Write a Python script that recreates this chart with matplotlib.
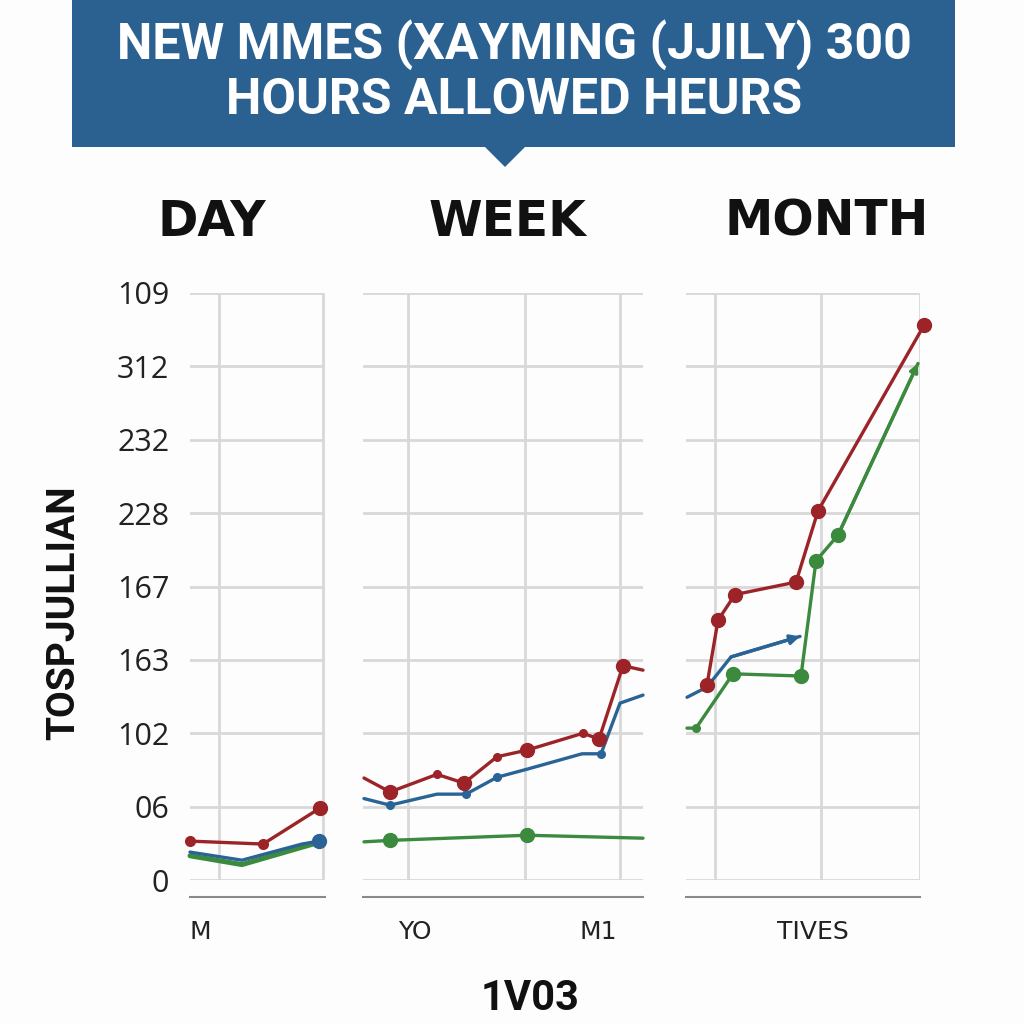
import matplotlib
matplotlib.use("Agg")
import matplotlib.pyplot as plt
from matplotlib.patches import Rectangle, Polygon

# ---------------- data ----------------
title_lines = ["NEW MMES (XAYMING (JJILY) 300", "HOURS ALLOWED HEURS"]
panel_titles = ["DAY", "WEEK", "MONTH"]
ytick_labels = ["0", "06", "102", "163", "167", "228", "232", "312", "109"]
ylabel = "TOSPJULLIAN"
xlabel = "1V03"

# DAY panel
day_red_x = [0.0, 7.3, 13.0]
day_red_y = [0.53, 0.49, 0.98]
day_blue_x = [0.0, 5.2, 11.2, 12.9]
day_blue_y = [0.38, 0.27, 0.49, 0.53]
day_green_x = [0.0, 5.2, 12.3]
day_green_y = [0.33, 0.21, 0.49]
day_ticks = [1.0]
day_ticklabels = ["M"]
day_grid = [2.9, 13.3]

# WEEK panel
week_red_x = [0.1, 2.7, 7.4, 10.1, 13.4, 16.4, 22.0, 23.6, 26.0, 28.0]
week_red_y = [1.39, 1.20, 1.44, 1.32, 1.68, 1.77, 2.00, 1.92, 2.92, 2.86]
week_blue_x = [0.1, 2.7, 7.4, 10.3, 13.4, 16.4, 21.9, 23.8, 25.7, 28.0]
week_blue_y = [1.11, 1.02, 1.17, 1.17, 1.40, 1.51, 1.72, 1.72, 2.41, 2.52]
week_green_x = [0.1, 2.7, 16.4, 28.0]
week_green_y = [0.52, 0.54, 0.61, 0.57]
week_ticks = [5.2, 23.5]
week_ticklabels = ["YO", "M1"]
week_grid = [4.5, 16.2, 25.7]

# MONTH panel
month_red_x = [2.1, 3.2, 4.9, 11.0, 13.2, 23.8]
month_red_y = [2.66, 3.54, 3.89, 4.06, 5.03, 7.56]
month_blue_x = [0.1, 2.1, 4.5, 11.4]
month_blue_y = [2.49, 2.63, 3.04, 3.32]
month_green_x = [0.1, 1.0, 4.7, 11.5, 13.0, 15.2, 23.2]
month_green_y = [2.07, 2.07, 2.81, 2.78, 4.35, 4.70, 7.04]
month_ticks = [12.7]
month_ticklabels = ["TIVES"]
month_grid = [2.9, 13.5, 23.4]

# ---------------- style ----------------
RED = "#9c2428"
BLUE = "#2a6496"
GREEN = "#3b8a3e"
BANNER = "#2b6191"
GRID = "#d8d8d8"
LW = 2.4

fig = plt.figure(figsize=(10.24, 10.24), dpi=100)
fig.patch.set_facecolor("#fdfdfd")

def px(x0, y0, x1, y1):
    return [x0 / 1024, 1 - y1 / 1024, (x1 - x0) / 1024, (y1 - y0) / 1024]

# banner
fig.add_artist(Rectangle((72 / 1024, 1 - 147 / 1024), 883 / 1024, 147 / 1024,
                         transform=fig.transFigure, facecolor=BANNER, edgecolor="none"))
fig.add_artist(Polygon([(484 / 1024, 1 - 146 / 1024), (526 / 1024, 1 - 146 / 1024),
                        (505 / 1024, 1 - 167 / 1024)], closed=True,
                       transform=fig.transFigure, facecolor=BANNER, edgecolor="none"))
tfam = ["Roboto", "DejaVu Sans"]
fig.text(514 / 1024, 1 - 45 / 1024, title_lines[0], color="white", fontsize=36,
         fontweight="bold", family=tfam, ha="center", va="center")
fig.text(514 / 1024, 1 - 101 / 1024, title_lines[1], color="white", fontsize=36,
         fontweight="bold", family=tfam, ha="center", va="center")

panels = [
    dict(rect=px(190, 293, 325, 880), xlim=(0, 13.5), grid=day_grid, ticks=day_ticks,
         tl=day_ticklabels,
         red=(day_red_x, day_red_y, [0, 1, 2], [2], []),
         blue=(day_blue_x, day_blue_y, [3], [3], []),
         green=(day_green_x, day_green_y, [], [], []),
         title_x=212),
    dict(rect=px(363, 293, 643, 880), xlim=(0, 28), grid=week_grid, ticks=week_ticks,
         tl=week_ticklabels,
         red=(week_red_x, week_red_y, None, [1, 3, 5, 7, 8], [2, 4, 6]),
         blue=(week_blue_x, week_blue_y, None, [], [1, 3, 4, 7]),
         green=(week_green_x, week_green_y, None, [1, 2], []),
         title_x=507),
    dict(rect=px(686, 293, 920, 880), xlim=(0, 23.4), grid=month_grid, ticks=month_ticks,
         tl=month_ticklabels,
         red=(month_red_x, month_red_y, None, [0, 1, 2, 3, 4, 5], []),
         blue=(month_blue_x, month_blue_y, None, [], []),
         green=(month_green_x, month_green_y, None, [2, 3, 4, 5], [1]),
         title_x=827),
]

axes = []
for i, p in enumerate(panels):
    ax = fig.add_axes(p["rect"])
    axes.append(ax)
    ax.set_facecolor("none")
    ax.set_xlim(*p["xlim"])
    ax.set_ylim(0, 8)
    ax.set_xticks(p["grid"])
    ax.set_xticklabels([])
    ax.set_xticks(p["ticks"], minor=True)
    ax.set_xticklabels(p["tl"], minor=True)
    ax.set_yticks(range(9))
    if i == 0:
        ax.set_yticklabels(ytick_labels)
    else:
        ax.set_yticklabels([])
    ax.tick_params(axis="both", which="both", length=0)
    ax.tick_params(axis="x", which="minor", pad=17, labelsize=18, labelcolor="#222222")
    ax.tick_params(axis="y", pad=15, labelsize=22, labelcolor="#222222")
    for lab in ax.get_xticklabels(minor=True) + ax.get_yticklabels():
        lab.set_family(["Open Sans", "DejaVu Sans"])
    ax.grid(True, which="major", color=GRID, linewidth=2.0)
    ax.set_axisbelow(True)
    for s in ["top", "left", "right"]:
        ax.spines[s].set_visible(False)
    ax.spines["bottom"].set_position(("outward", 12))
    ax.spines["bottom"].set_color("#8a8a8a")
    ax.spines["bottom"].set_linewidth(1.5)

    for key, col in (("green", GREEN), ("blue", BLUE), ("red", RED)):
        xs, ys, _, big, small = p[key]
        ax.plot(xs, ys, color=col, lw=LW if key != "green" or i != 0 else 3.6,
                solid_capstyle="round", clip_on=False, zorder=3)
        if big:
            ax.plot(xs, ys, linestyle="none", marker="o", markersize=10, color=col,
                    markevery=big, clip_on=False, zorder=4)
        if small:
            ax.plot(xs, ys, linestyle="none", marker="o", markersize=5.5, color=col,
                    markevery=small, clip_on=False, zorder=4)

    fig.text(p["title_x"] / 1024, 1 - 222 / 1024, panel_titles[i], fontsize=35,
             fontweight="bold", color="#111111", ha="center", va="center",
             family=["DejaVu Sans"])

# day panel markers at ends
axes[0].plot(day_red_x, day_red_y, linestyle="none", marker="o", markersize=7,
             color=RED, markevery=[0, 1], clip_on=False, zorder=4)

# month panel arrow ends
axm = axes[2]
axm.annotate("", xy=(month_blue_x[-1], month_blue_y[-1]),
             xytext=(month_blue_x[-2], month_blue_y[-2]),
             arrowprops=dict(arrowstyle="-|>", color=BLUE, lw=LW, mutation_scale=14,
                             shrinkA=0, shrinkB=0), zorder=3)
axm.annotate("", xy=(month_green_x[-1], month_green_y[-1]),
             xytext=(month_green_x[-2], month_green_y[-2]),
             arrowprops=dict(arrowstyle="-|>", color=GREEN, lw=LW, mutation_scale=12,
                             shrinkA=0, shrinkB=0), annotation_clip=False, zorder=3)

fig.text(64 / 1024, 1 - 613 / 1024, ylabel, rotation=90, fontsize=28, fontweight="bold",
         color="#111111", ha="center", va="center", family=tfam)
fig.text(530 / 1024, 1 - 998 / 1024, xlabel, fontsize=30, fontweight="bold",
         color="#111111", ha="center", va="center", family=["Roboto", "DejaVu Sans"])

fig.savefig("out.png", dpi=100, facecolor=fig.get_facecolor())
